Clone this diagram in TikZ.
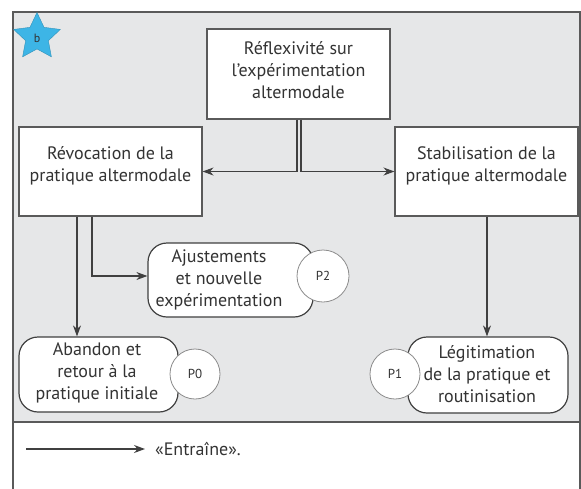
\documentclass[tikz,border=0pt]{standalone}
\usepackage{fontspec}
\setmainfont{PT Sans}
\usetikzlibrary{shapes.geometric,arrows.meta}
\definecolor{bgray}{HTML}{E6E7E8}
\definecolor{fgray}{HTML}{5A5A5A}
\definecolor{lgray}{HTML}{404040}
\definecolor{tgray}{HTML}{333333}
\definecolor{cgray}{HTML}{8C8C8C}
\definecolor{starblue}{HTML}{3DB5E6}
\tikzset{
  sqbox/.style={draw=fgray, line width=1.1pt, fill=white, inner sep=0pt},
  rbox/.style={draw=lgray, line width=1.2pt, fill=white, rounded corners=19pt, inner sep=0pt},
  pcirc/.style={circle, draw=cgray, line width=0.8pt, fill=white, inner sep=0pt, minimum size=50pt, font=\fontsize{13}{15}\selectfont, text=tgray},
  txt/.style={align=center, text=tgray, font=\fontsize{18}{22}\selectfont, inner sep=0pt},
  arr/.style={draw=lgray, line width=1.1pt, -{Stealth[length=11pt,width=8pt]}},
}
\begin{document}
\begin{tikzpicture}[x=1pt,y=-1pt]
\useasboundingbox (0,0) rectangle (581,488);
% frame
\fill[bgray] (13,12) rectangle (581,422);
\begin{scope}
\clip (0,0) rectangle (581,488);
\draw[fgray, line width=1.3pt] (13,495) -- (13,12) -- (580,12) -- (580,495);
\end{scope}
\draw[fgray, line width=1.3pt] (13,422) -- (580,422);
% star
\node[star, star points=5, star point ratio=2.05, minimum size=49pt, inner sep=0pt, fill=starblue, draw=starblue!80!black, line width=0.4pt] (star) at (37,37) {};
\node[text=tgray, font=\fontsize{12}{14}\selectfont] (b) at (37,38) {b};
% boxes
\node[sqbox, minimum width=183pt, minimum height=90pt] (top) at (298.5,74) {};
\node[txt] (toptxt) at (298.5,70) {Réflexivité sur\\l’expérimentation\\altermodale};
\node[sqbox, minimum width=183pt, minimum height=89pt] (rev) at (110.5,171.5) {};
\node[txt] (revtxt) at (110.5,166) {Révocation de la\\pratique altermodale};
\node[sqbox, minimum width=183pt, minimum height=89pt] (stab) at (486.5,171.5) {};
\node[txt] (stabtxt) at (486.5,166) {Stabilisation de la\\pratique altermodale};
% rounded boxes
\node[rbox, minimum width=165pt, minimum height=74pt] (aj) at (230.5,280) {};
\node[txt] (ajtxt) at (219,280) {Ajustements\\et nouvelle\\expérimentation};
\node[pcirc, minimum size=52pt] (p2) at (323,276) {P2};
\node[rbox, minimum width=159pt, minimum height=75pt] (ab) at (98.5,374.5) {};
\node[txt] (abtxt) at (97,373) {Abandon et\\retour à la\\pratique initiale};
\node[pcirc] (p0) at (195,374) {P0};
\node[rbox, minimum width=160pt, minimum height=76pt] (leg) at (488,375) {};
\node[txt] (legtxt) at (487,374) {Légitimation\\de la pratique et\\routinisation};
\node[pcirc] (p1) at (395,374) {P1};
% connectors
\coordinate (xl) at (77,0);
\coordinate (xr) at (92,0);
\coordinate (xs) at (487,0);
\draw[arr] ([xshift=-1.5pt]top.south) |- (rev.east);
\draw[arr] ([xshift=2.5pt]top.south) |- (stab.west);
\draw[arr] (rev.south -| xl) -- (ab.north -| xl);
\draw[arr] (rev.south -| xr) |- ([yshift=4pt]aj.west);
\draw[arr] (stab.south -| xs) -- (leg.north -| xs);
% legend
\coordinate (la) at (26,449);
\coordinate (lb) at (145,449);
\draw[arr] (la) -- (lb);
\node[txt, anchor=west] (legend) at (155,449) {«Entraîne».};
\end{tikzpicture}
\end{document}
